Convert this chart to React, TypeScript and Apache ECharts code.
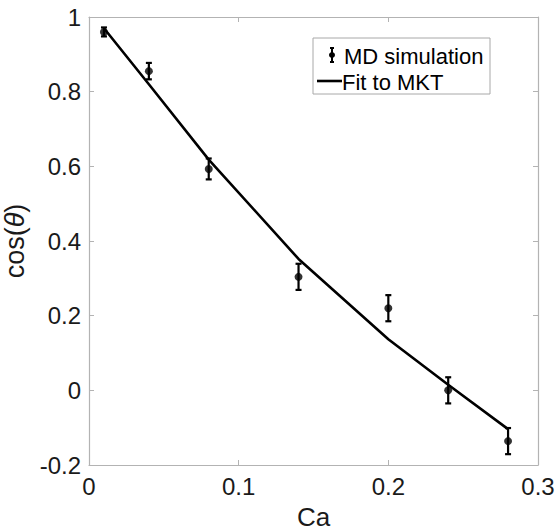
import React, { useEffect, useRef } from "react";
import * as echarts from "echarts";

const caValues = [0.01, 0.04, 0.08, 0.14, 0.2, 0.24, 0.28];
const mdValues = [0.96, 0.855, 0.593, 0.304, 0.22, 0.0, -0.136];
const mdErrors = [0.012, 0.022, 0.028, 0.035, 0.035, 0.035, 0.035];
const fitValues = [0.97, 0.82, 0.618, 0.352, 0.137, 0.015, -0.104];

const xTicks = { min: 0, max: 0.3, interval: 0.1 };
const yTicks = { min: -0.2, max: 1, interval: 0.2 };

const FONT = "'Liberation Sans', Arial, Helvetica, sans-serif";
const AXIS_GRAY = "#b3b3b3";

export default function App() {
  const ref = useRef<HTMLDivElement>(null);
  useEffect(() => {
    if (!ref.current) return;
    const chart = echarts.init(ref.current, undefined, { renderer: "svg" });
    const fmt = (v: number) => {
      const r = Math.round(v * 100) / 100;
      return String(r);
    };
    const baseAxisLine = { show: true, onZero: false, lineStyle: { color: AXIS_GRAY, width: 1.2 } };
    const baseTick = { show: true, inside: true, length: 5, lineStyle: { color: AXIS_GRAY, width: 1 } };
    const option: any = {
      animation: false,
      backgroundColor: "#ffffff",
      grid: { left: 89, top: 17, width: 449, height: 448, outerBoundsMode: "none", containLabel: false },
      xAxis: [
        {
          type: "value",
          min: xTicks.min,
          max: xTicks.max,
          interval: xTicks.interval,
          position: "bottom",
          axisLine: baseAxisLine,
          axisTick: baseTick,
          splitLine: { show: false },
          axisLabel: { color: "#1a1a1a", fontSize: 24, fontFamily: FONT, margin: 9, formatter: fmt },
          name: "Ca",
          nameLocation: "middle",
          nameGap: 37,
          nameTextStyle: { color: "#1a1a1a", fontSize: 26, fontFamily: FONT, lineHeight: 28 },
        },
        {
          type: "value",
          min: xTicks.min,
          max: xTicks.max,
          interval: xTicks.interval,
          position: "top",
          axisLine: baseAxisLine,
          axisTick: baseTick,
          splitLine: { show: false },
          axisLabel: { show: false },
        },
      ],
      yAxis: [
        {
          type: "value",
          min: yTicks.min,
          max: yTicks.max,
          interval: yTicks.interval,
          position: "left",
          axisLine: baseAxisLine,
          axisTick: baseTick,
          splitLine: { show: false },
          axisLabel: { color: "#1a1a1a", fontSize: 24, fontFamily: FONT, margin: 8, formatter: fmt },
          name: "cos({i|θ})",
          nameLocation: "middle",
          nameGap: 52,
          nameRotate: 90,
          nameTextStyle: {
            color: "#1a1a1a",
            fontSize: 27,
            fontFamily: FONT,
            rich: { i: { fontStyle: "italic", fontSize: 27, fontFamily: FONT, color: "#1a1a1a" } },
          },
        },
        {
          type: "value",
          min: yTicks.min,
          max: yTicks.max,
          interval: yTicks.interval,
          position: "right",
          axisLine: baseAxisLine,
          axisTick: baseTick,
          splitLine: { show: false },
          axisLabel: { show: false },
        },
      ],
      series: [
        {
          name: "Fit to MKT",
          type: "line",
          xAxisIndex: 0,
          yAxisIndex: 0,
          data: caValues.map((c, i) => [c, fitValues[i]]),
          showSymbol: false,
          symbol: "none",
          lineStyle: { color: "#000", width: 2.6 },
          z: 3,
        },
        {
          name: "MD error",
          type: "custom",
          xAxisIndex: 0,
          yAxisIndex: 0,
          data: caValues.map((c, i) => [c, mdValues[i] - mdErrors[i], mdValues[i] + mdErrors[i]]),
          renderItem: (params: any, api: any) => {
            const x = api.value(0);
            const top = api.coord([x, api.value(2)]);
            const bot = api.coord([x, api.value(1)]);
            const hw = 3;
            const st = { stroke: "#000", lineWidth: 2.2 };
            return {
              type: "group",
              children: [
                { type: "line", shape: { x1: top[0], y1: top[1], x2: bot[0], y2: bot[1] }, style: st },
                { type: "line", shape: { x1: top[0] - hw, y1: top[1], x2: top[0] + hw, y2: top[1] }, style: st },
                { type: "line", shape: { x1: bot[0] - hw, y1: bot[1], x2: bot[0] + hw, y2: bot[1] }, style: st },
              ],
            };
          },
          z: 4,
        },
        {
          name: "MD simulation",
          type: "scatter",
          xAxisIndex: 0,
          yAxisIndex: 0,
          data: caValues.map((c, i) => [c, mdValues[i]]),
          symbol: "circle",
          symbolSize: 8,
          itemStyle: { color: "#000" },
          z: 5,
        },
      ],
      graphic: [
        {
          type: "rect",
          shape: { x: 313, y: 38, width: 177, height: 56 },
          style: { fill: "#fff", stroke: "#a8a8a8", lineWidth: 1 },
          z: 10,
        },
        { type: "line", shape: { x1: 332, y1: 48, x2: 332, y2: 62 }, style: { stroke: "#000", lineWidth: 2 }, z: 11 },
        { type: "line", shape: { x1: 330, y1: 48, x2: 334, y2: 48 }, style: { stroke: "#000", lineWidth: 2 }, z: 11 },
        { type: "line", shape: { x1: 330, y1: 62, x2: 334, y2: 62 }, style: { stroke: "#000", lineWidth: 2 }, z: 11 },
        { type: "circle", shape: { cx: 332, cy: 55, r: 3 }, style: { fill: "#000" }, z: 11 },
        {
          type: "text",
          x: 344,
          y: 56,
          style: { text: "MD simulation", fill: "#000", font: `22px ${FONT}`, verticalAlign: "middle", align: "left" },
          z: 11,
        },
        { type: "line", shape: { x1: 317, y1: 81, x2: 342, y2: 81 }, style: { stroke: "#000", lineWidth: 2.6 }, z: 11 },
        {
          type: "text",
          x: 342,
          y: 82,
          style: { text: "Fit to MKT", fill: "#000", font: `22px ${FONT}`, verticalAlign: "middle", align: "left" },
          z: 11,
        },
      ],
    };
    chart.setOption(option);
    return () => chart.dispose();
  }, []);
  return (
    <div
      ref={ref}
      style={{ position: "fixed", left: 0, top: 0, width: 555, height: 531, background: "#fff" }}
    />
  );
}
